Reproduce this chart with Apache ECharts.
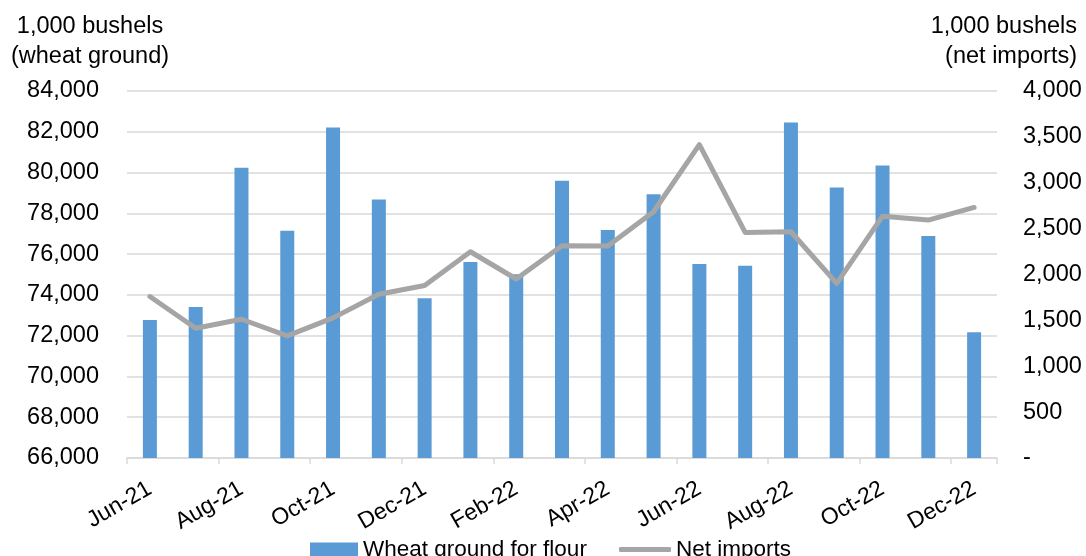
<!DOCTYPE html>
<html>
<head>
<meta charset="utf-8">
<script src="https://cdn.jsdelivr.net/npm/echarts@6/dist/echarts.min.js"></script>
<style>
html,body{margin:0;padding:0;background:#fff;}
#chart{width:1086px;height:556px;}
</style>
</head>
<body>
<div id="chart"></div>
<script>
const categories = ['Jun-21','Jul-21','Aug-21','Sep-21','Oct-21','Nov-21','Dec-21','Jan-22','Feb-22','Mar-22','Apr-22','May-22','Jun-22','Jul-22','Aug-22','Sep-22','Oct-22','Nov-22','Dec-22'];
const wheatGround = [72770,73400,80230,77150,82210,78680,73830,75610,75010,79600,77180,78940,75520,75430,82450,79270,80350,76890,72170];
const netImports = [1760,1414,1512,1331,1527,1784,1880,2248,1951,2314,2310,2684,3416,2459,2466,1904,2636,2593,2731];
const leftTicks = {min:66000, max:84000, interval:2000};
const rightTicks = {min:0, max:4000, interval:500};

const FONT = 'Liberation Sans, Arial, sans-serif';
const fmt = v => v.toString().replace(/\B(?=(\d{3})+(?!\d))/g, ',');

const chart = echarts.init(document.getElementById('chart'), null, {renderer:'canvas'});
chart.setOption({
  animation:false,
  backgroundColor:'#fff',
  textStyle:{fontFamily:FONT},
  grid:{left:127, right:89, top:91, bottom:98, containLabel:false},
  legend:[
    {
      top:533, left:305,
      itemWidth:48, itemHeight:14, itemGap:30,
      textStyle:{fontFamily:FONT, fontSize:22.5, color:'#000'},
      data:[{name:'Wheat ground for flour', icon:'rect'}]
    },
    {
      top:533, left:614,
      itemWidth:52, itemHeight:5, itemGap:30,
      textStyle:{fontFamily:FONT, fontSize:22.5, color:'#000'},
      data:[{name:'Net imports', icon:'roundRect'}]
    }
  ],
  graphic:[
    {type:'text', x:90, y:12, style:{text:'1,000 bushels\n(wheat ground)', font:'23.5px '+FONT, fill:'#000', textAlign:'center', lineHeight:30}},
    {type:'text', x:1077, y:12, style:{text:'1,000 bushels\n(net imports)', font:'23.5px '+FONT, fill:'#000', textAlign:'right', lineHeight:30}}
  ],
  xAxis:{
    type:'category', data:categories, boundaryGap:true,
    axisLine:{lineStyle:{color:'#d9d9d9', width:1.5}},
    axisTick:{show:true, interval:1, alignWithLabel:false, length:6, lineStyle:{color:'#d9d9d9', width:1.5}},
    axisLabel:{interval:1, rotate:30, margin:29, fontSize:23, color:'#000', fontFamily:FONT}
  },
  yAxis:[
    {type:'value', min:leftTicks.min, max:leftTicks.max, interval:leftTicks.interval,
     axisLine:{show:false}, axisTick:{show:false},
     axisLabel:{fontSize:23.5, color:'#000', fontFamily:FONT, margin:28, formatter:v=>fmt(v)},
     splitLine:{lineStyle:{color:'#d9d9d9', width:1.5}}},
    {type:'value', min:rightTicks.min, max:rightTicks.max, interval:rightTicks.interval,
     axisLine:{show:false}, axisTick:{show:false},
     axisLabel:{fontSize:23.5, color:'#000', fontFamily:FONT, margin:26, align:'left', formatter:v=>v===0?'-':fmt(v)},
     splitLine:{show:false}}
  ],
  series:[
    {name:'Wheat ground for flour', type:'bar', data:wheatGround, barWidth:14, itemStyle:{color:'#5b9bd5'}, yAxisIndex:0},
    {name:'Net imports', type:'line', data:netImports, yAxisIndex:1, symbol:'none', lineStyle:{color:'#a5a5a5', width:5, cap:'round', join:'round'}, itemStyle:{color:'#a5a5a5'}}
  ]
});
</script>
</body>
</html>
